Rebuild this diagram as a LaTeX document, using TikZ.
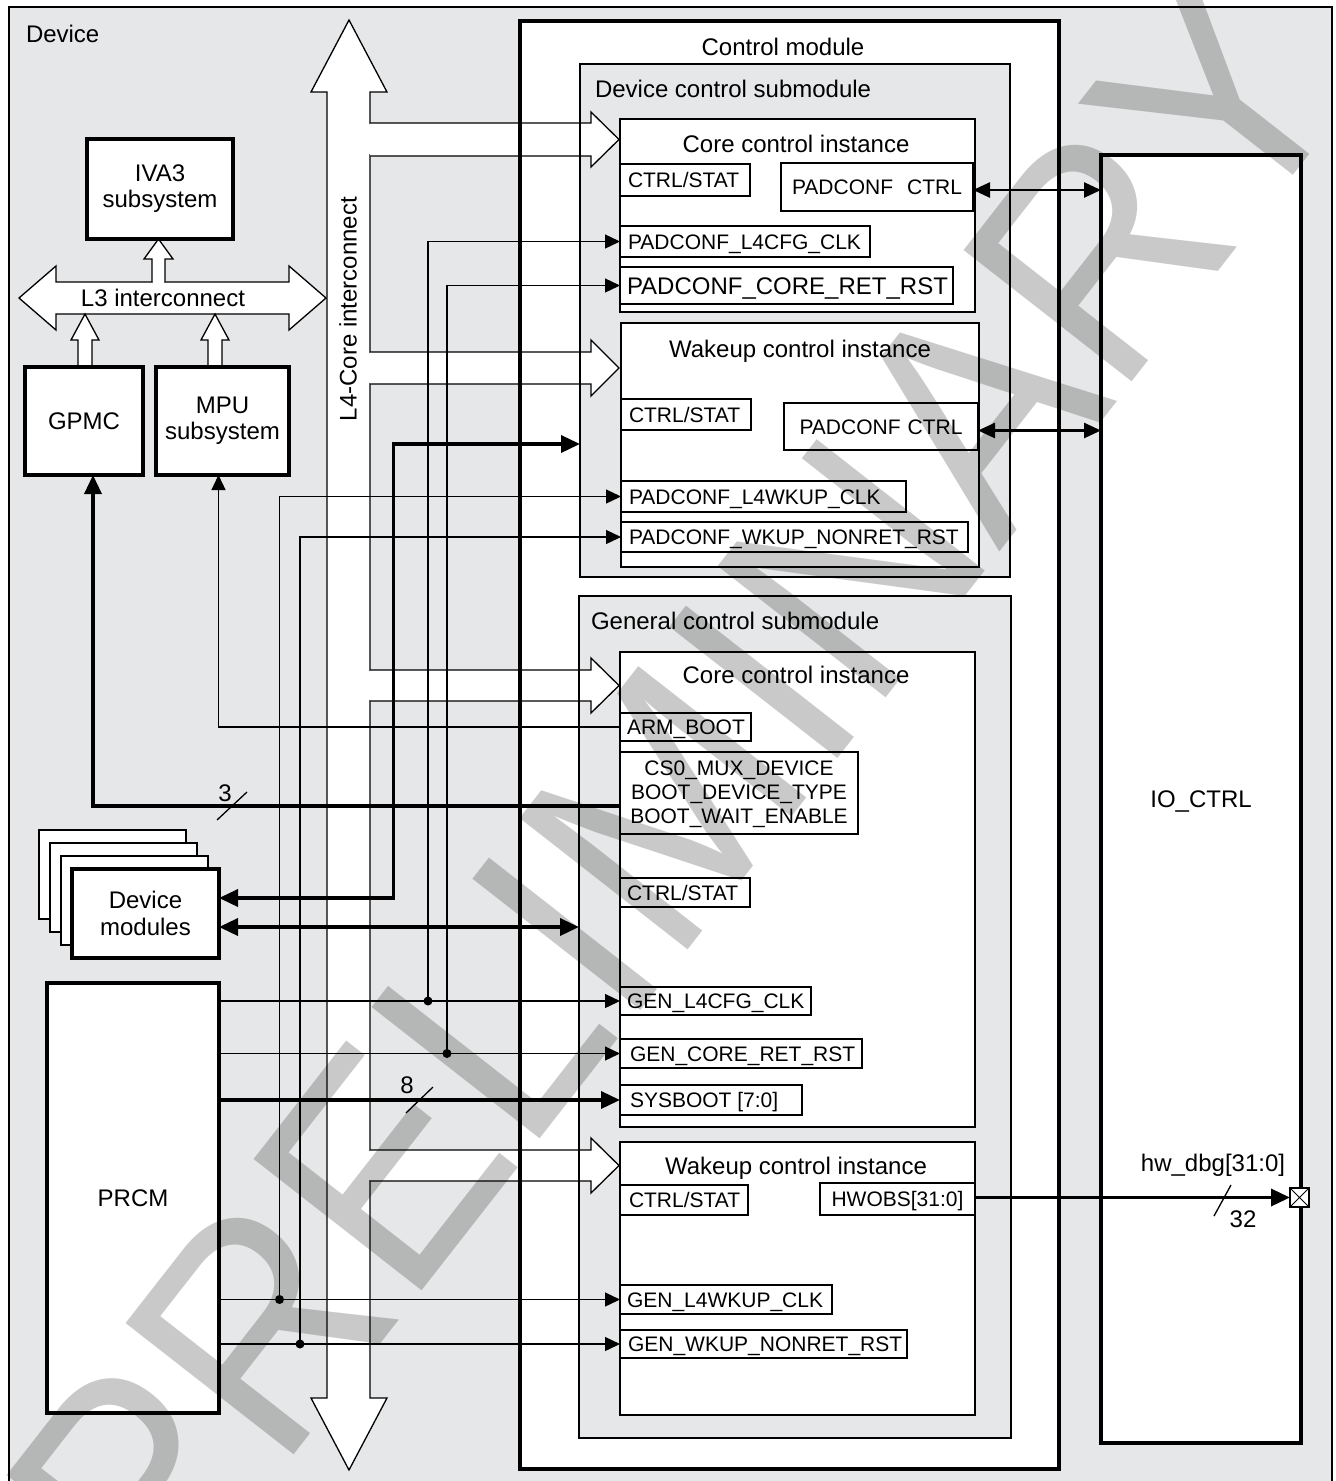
\documentclass[tikz,border=0pt]{standalone}
\usepackage{graphicx}
\usepackage{fontspec}
\setmainfont{Liberation Sans}
\usetikzlibrary{arrows.meta}
\definecolor{bg}{RGB}{230,231,232}
\tikzset{
 bx/.style={draw, inner sep=0pt, outer sep=0pt, anchor=north west},
 thickbx/.style={bx, line width=3.5pt, fill=white},
 midbx/.style={bx, line width=2.5pt},
 rg/.style={draw, line width=1.2pt, inner ysep=0pt, outer sep=0pt, anchor=north west, align=flush left, font=\fontsize{21}{24}\selectfont, text height=15pt, text depth=0pt},
 t24/.style={inner sep=0pt, outer sep=0pt, font=\fontsize{24}{26}\selectfont},
 t21/.style={inner sep=0pt, outer sep=0pt, font=\fontsize{21}{24}\selectfont},
 sig/.style={line width=1.3pt},
 bus/.style={line width=3.5pt},
 mid/.style={line width=2.5pt},
 tthin/.style={-{Triangle[length=15pt,width=14pt]}},
 tbus/.style={-{Triangle[length=19pt,width=17pt]}},
 tboth/.style={{Triangle[length=19pt,width=17pt]}-{Triangle[length=19pt,width=17pt]}},
 tmid/.style={{Triangle[length=17pt,width=15pt]}-{Triangle[length=17pt,width=15pt]}},
 wa/.style={line width=1.3pt, fill=white},
}
\begin{document}
\begin{tikzpicture}[x=1pt,y=-1pt]
\useasboundingbox (0,0) rectangle (1336,1481);
% Device frame
\node[bx, line width=2pt, fill=bg, minimum width=1323pt, minimum height=1500pt] (dev) at (9,7) {};
\node[t24, anchor=base west] (devt) at (26,42) {Device};

% L3 interconnect and small arrows
\draw[wa] (19,298) -- (56,266) -- (56,282) -- (289,282) -- (289,266) -- (326,298) -- (289,330) -- (289,314) -- (56,314) -- (56,330) -- cycle;
\node[t24, anchor=base] (l3t) at (163,306) {L3 interconnect};
\fill[white] (152.7,280.5) rectangle (164.3,283.5);
\draw[wa] (152,282) -- (152,259) -- (144,259) -- (158.5,239) -- (173,259) -- (165,259) -- (165,282);
\draw[wa] (78,367) -- (78,340) -- (71,340) -- (85,314) -- (99,340) -- (92,340) -- (92,367);
\draw[wa] (208,367) -- (208,340) -- (201,340) -- (215,314) -- (229,340) -- (222,340) -- (222,367);

% left blocks
\node[thickbx, minimum width=146pt, minimum height=100pt, align=center, font=\fontsize{24}{26}\selectfont] (iva) at (87,139) {IVA3\\subsystem};
\node[thickbx, minimum width=118pt, minimum height=108pt, font=\fontsize{24}{26}\selectfont] (gpmc) at (25,367) {GPMC};
\node[thickbx, minimum width=133pt, minimum height=108pt, align=center, font=\fontsize{24}{26}\selectfont] (mpu) at (156,367) {MPU\\subsystem};
\node[bx, line width=2pt, fill=white, minimum width=147pt, minimum height=89pt] (dm0) at (39,830) {};
\node[bx, line width=2pt, fill=white, minimum width=147pt, minimum height=89pt] (dm1) at (50,843) {};
\node[bx, line width=2pt, fill=white, minimum width=147pt, minimum height=89pt] (dm2) at (61,856) {};
\node[thickbx, minimum width=147pt, minimum height=89pt, align=center, font=\fontsize{24}{27}\selectfont] (dm) at (72,869) {Device\\modules};
\node[thickbx, minimum width=172pt, minimum height=430pt, font=\fontsize{24}{26}\selectfont] (prcm) at (47,983) {PRCM};

% Control module and submodules
\node[thickbx, minimum width=539pt, minimum height=1448pt] (ctl) at (520,21) {};
\node[t24, anchor=base] (ctlt) at (783,55) {Control module};
\node[midbx, fill=bg, minimum width=430pt, minimum height=513pt] (dsm) at (580,64) {};
\node[t24, anchor=base west] (dsmt) at (595,97) {Device control submodule};
\node[midbx, fill=bg, minimum width=432pt, minimum height=842pt] (gsm) at (579,596) {};
\node[t24, anchor=base west] (gsmt) at (591,629) {General control submodule};
\node[midbx, fill=white, minimum width=355pt, minimum height=193pt] (dci) at (620,119) {};
\node[midbx, fill=white, minimum width=358pt, minimum height=244pt] (dwi) at (621,323) {};
\node[midbx, fill=white, minimum width=355pt, minimum height=475pt] (gci) at (620,652) {};
\node[midbx, fill=white, minimum width=355pt, minimum height=273pt] (gwi) at (620,1142) {};
\node[t24, anchor=base] (dcit) at (796,152) {Core control instance};
\node[t24, anchor=base] (dwit) at (800,357) {Wakeup control instance};
\node[t24, anchor=base] (gcit) at (796,683) {Core control instance};
\node[t24, anchor=base] (gwit) at (796,1174) {Wakeup control instance};

% IO_CTRL
\node[thickbx, minimum width=200pt, minimum height=1288pt, font=\fontsize{24}{26}\selectfont, text height=17.2pt, text depth=0pt] (io) at (1101,155) {IO\_CTRL};

% L4 interconnect
\draw[wa] (327,1398) -- (327,92) -- (311,92) -- (349,20) -- (387,92) -- (370,92) -- (370,1398) -- (387,1398) -- (349,1470) -- (311,1398) -- cycle;
\node[t24, rotate=90, anchor=base] (l4t) at (356.6,309) {L4-Core interconnect};

% side white arrows
\fill[white] (368,123.6) rectangle (595,154.4);
\draw[wa] (370,123) -- (591,123) -- (591,112) -- (619,139.5) -- (591,167) -- (591,156) -- (370,156);
\fill[white] (368,352.6) rectangle (595,383.4);
\draw[wa] (370,352) -- (591,352) -- (591,340) -- (619,368) -- (591,396) -- (591,384) -- (370,384);
\fill[white] (368,670.6) rectangle (595,700.4);
\draw[wa] (370,670) -- (591,670) -- (591,658) -- (619,685.5) -- (591,713) -- (591,701) -- (370,701);
\fill[white] (368,1150.6) rectangle (595,1180.4);
\draw[wa] (370,1150) -- (591,1150) -- (591,1138) -- (619,1165.5) -- (591,1193) -- (591,1181) -- (370,1181);

% re-stroke borders over arrows
\draw[line width=3.5pt] (ctl.north west) rectangle (ctl.south east);
\draw[line width=2.5pt] (dsm.north west) rectangle (dsm.south east);
\draw[line width=2.5pt] (gsm.north west) rectangle (gsm.south east);

% registers: device core instance
\node[rg, inner xsep=8pt, text width=114pt, minimum height=32pt] (r1) at (620,164) {CTRL/STAT};
\node[rg, inner xsep=8pt, text width=176pt, minimum height=48pt, align=center] (pc1) at (781,163) {PADCONF\ \ CTRL};
\node[rg, inner xsep=8pt, text width=234pt, minimum height=31pt] (pl4) at (620,226) {PADCONF\_L4CFG\_CLK};
\node[rg, inner xsep=7pt, text width=319pt, minimum height=37pt, font=\fontsize{24}{26}\selectfont, text height=17.2pt] (pcr) at (620,267) {PADCONF\_CORE\_RET\_RST};
% device wakeup instance
\node[rg, inner xsep=8pt, text width=114pt, minimum height=31pt] (r2) at (621,399) {CTRL/STAT};
\node[rg, inner xsep=8pt, text width=178pt, minimum height=47pt, align=center] (pc2) at (784,403) {PADCONF CTRL};
\node[rg, inner xsep=8pt, text width=269pt, minimum height=31pt] (pwl4) at (621,481) {PADCONF\_L4WKUP\_CLK};
\node[rg, inner xsep=8pt, text width=331pt, minimum height=30pt] (pwnr) at (621,522) {PADCONF\_WKUP\_NONRET\_RST};
% general core instance
\node[rg, inner xsep=7pt, text width=117pt, minimum height=28pt] (arm) at (620,713) {ARM\_BOOT};
\node[bx, line width=1.2pt, minimum width=238pt, minimum height=82pt] (cs0) at (620,752) {};
\node[t21, align=center] (cs0t) at (739,794) {CS0\_MUX\_DEVICE\\BOOT\_DEVICE\_TYPE\\BOOT\_WAIT\_ENABLE};
\node[rg, inner xsep=7pt, text width=116pt, minimum height=29pt] (r3) at (620,878) {CTRL/STAT};
\node[rg, inner xsep=7pt, text width=177pt, minimum height=28pt] (gl4) at (620,987) {GEN\_L4CFG\_CLK};
\node[rg, inner xsep=10pt, text width=222pt, minimum height=29pt] (gcr) at (620,1039) {GEN\_CORE\_RET\_RST};
\node[rg, inner xsep=10pt, text width=162pt, minimum height=30pt] (sys) at (620,1085) {SYSBOOT [7:0]};
% general wakeup instance
\node[rg, inner xsep=9pt, text width=110pt, minimum height=30pt] (r4) at (620,1185) {CTRL/STAT};
\node[rg, inner xsep=10pt, text width=135pt, minimum height=32pt, align=center] (hw) at (820,1183) {HWOBS[31:0]};
\node[rg, inner xsep=7pt, text width=198pt, minimum height=29pt] (gwl4) at (620,1285) {GEN\_L4WKUP\_CLK};
\node[rg, inner xsep=8pt, text width=271pt, minimum height=28pt] (gwnr) at (620,1330) {GEN\_WKUP\_NONRET\_RST};

% PRCM signals
\draw[sig, tthin] (prcm.east |- gl4.west) -- (gl4.west);
\draw[sig, tthin] (prcm.east |- gcr.west) -- (gcr.west);
\draw[bus, tbus] (prcm.east |- sys.west) -- (sys.west);
\draw[sig, tthin] (prcm.east |- gwl4.west) -- (gwl4.west);
\draw[sig, tthin] (prcm.east |- gwnr.west) -- (gwnr.west);
\coordinate (j1) at (gl4.west -| 428,0);
\coordinate (j2) at (gcr.west -| 447,0);
\coordinate (j3) at (gwl4.west -| 279.5,0);
\coordinate (j4) at (gwnr.west -| 300,0);
\draw[sig, tthin] (j1) |- (pl4.west);
\draw[sig, tthin] (j2) |- (pcr.west);
\draw[sig, tthin] (j3) |- (pwl4.west);
\draw[sig, tthin] (j4) |- (pwnr.west);
\foreach \j in {j1,j2,j3,j4} \fill (\j) circle (4.5pt);
\draw[sig] (406,1113) -- (433,1087);
\node[t24, anchor=base] (l8) at (407,1093) {8};

% boot signals
\draw[sig, tthin] (arm.west) -| ([xshift=-4pt]mpu.south);
\draw[bus, tbus] ([yshift=-13pt]cs0.west) -| ([xshift=9pt]gpmc.south);
\draw[sig] (217,820) -- (247,792);
\node[t24, anchor=base] (l3n) at (225,801) {3};

% device modules
\coordinate (k1) at (393.5,444);
\draw[bus, tboth] ([yshift=15.5pt]dm.east) -| (k1) -- (k1 -| dsm.west);
\draw[bus, tboth] ([yshift=-13.5pt]dm.east) -- ([yshift=-13.5pt]dm.east -| gsm.west);

% PADCONF <-> IO_CTRL
\draw[mid, tmid] ([yshift=-3pt]pc1.east) -- ([yshift=-3pt]pc1.east -| io.west);
\draw[mid, tmid] ([yshift=-4pt]pc2.east) -- ([yshift=-4pt]pc2.east -| io.west);

% hw_dbg
\node[draw, line width=1.2pt, fill=white, minimum size=19pt, inner sep=0pt, outer sep=0pt] (pad) at (1299.5,1197.5) {};
\draw[line width=1pt] (pad.north west) -- (pad.south east) (pad.north east) -- (pad.south west);
\draw[bus, tbus] (pad.west -| hw.east) -- (pad.west);
\draw[sig] (1214,1216) -- (1231,1185);
\node[t24, anchor=base] (lhw) at (1213,1171) {hw\_dbg[31:0]};
\node[t24, anchor=base] (l32) at (1243,1227) {32};

% watermark
\node[rotate=52, anchor=base, inner sep=0pt, text opacity=0.21, font=\fontsize{310}{310}\selectfont] (wm) at (761,857) {\scalebox{0.93}[1]{PRELIMINARY}};
\end{tikzpicture}
\end{document}
